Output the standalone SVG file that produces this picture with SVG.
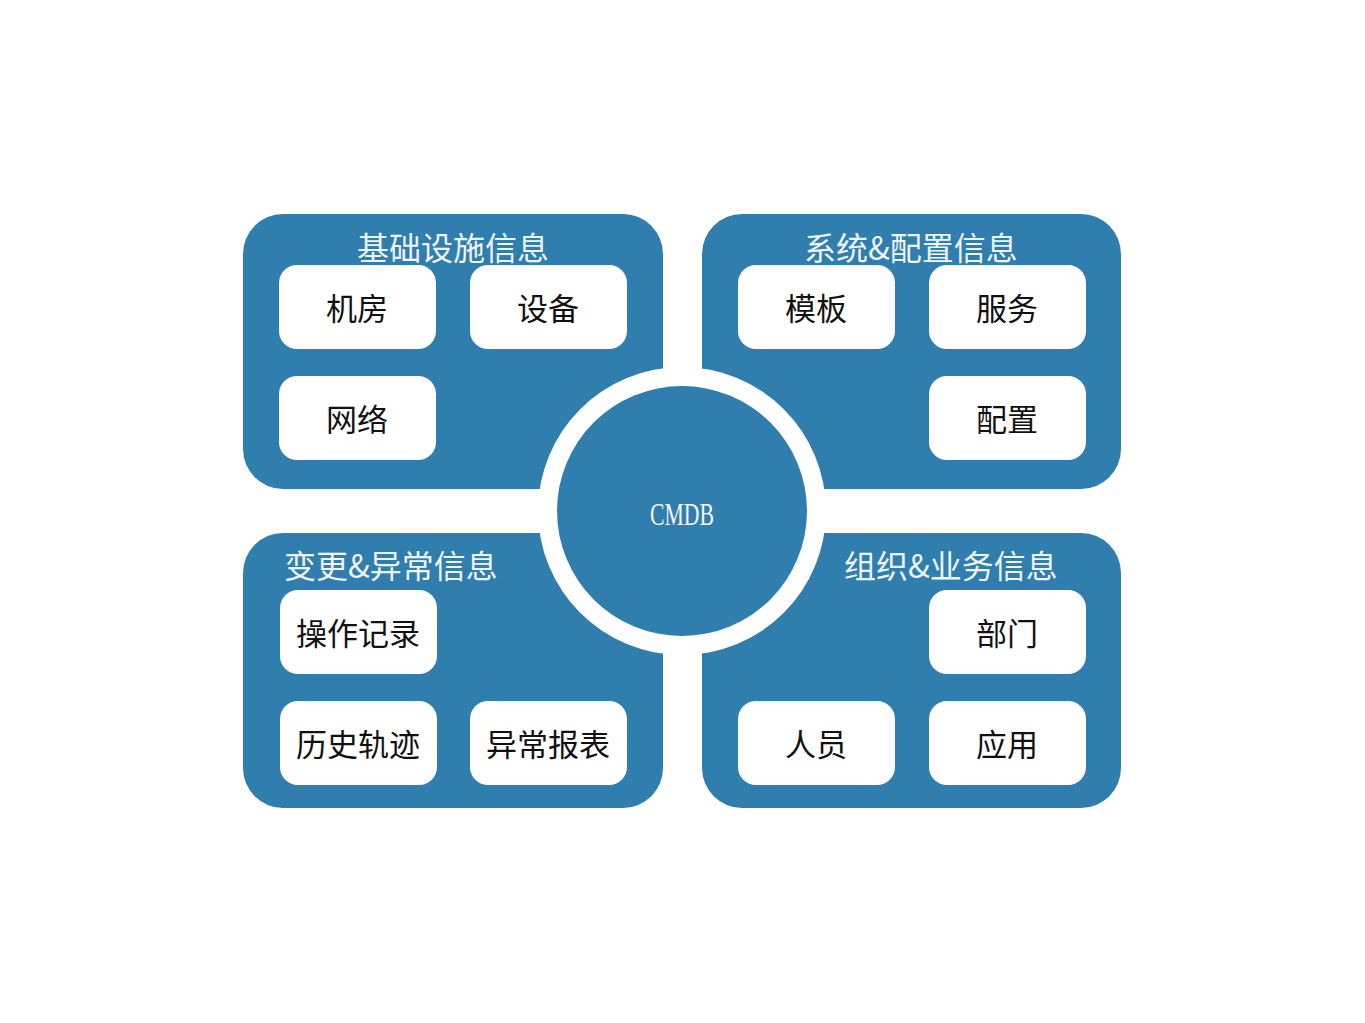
<svg xmlns="http://www.w3.org/2000/svg" width="1365" height="1023" viewBox="0 0 1365 1023">
<style>
.panel{fill:#2f7eae}
.box{fill:#ffffff}
.title{font-family:"Noto Sans CJK SC","Liberation Serif",serif;font-size:32px;fill:#eef4f8;text-anchor:middle}
.lbl{font-family:"Noto Sans CJK SC","Liberation Serif",serif;font-size:31px;fill:#111111;text-anchor:middle}
.core{font-family:"Liberation Serif","Noto Sans CJK SC",serif;font-size:32px;fill:#f4f8fb;text-anchor:middle}
</style>
<rect width="1365" height="1023" fill="#ffffff"/>
<g id="panel-infra">
<rect class="panel" x="243" y="214" width="420" height="275" rx="40"/>
<text class="title" x="453" y="260">基础设施信息</text>
</g>
<g id="panel-system">
<rect class="panel" x="702" y="214" width="419" height="275" rx="40"/>
<text class="title" x="911" y="260">系统&amp;配置信息</text>
</g>
<g id="panel-change">
<rect class="panel" x="243" y="533" width="420" height="275" rx="40"/>
<text class="title" x="391" y="578">变更&amp;异常信息</text>
</g>
<g id="panel-org">
<rect class="panel" x="702" y="533" width="419" height="275" rx="40"/>
<text class="title" x="951" y="578">组织&amp;业务信息</text>
</g>
<g id="cmdb">
<circle cx="682" cy="511" r="144" fill="#ffffff"/>
<circle class="panel" cx="682" cy="511" r="125"/>
<text class="core" x="682" y="525" textLength="64" lengthAdjust="spacingAndGlyphs">CMDB</text>
</g>
<g id="node-jifang"><rect class="box" x="279" y="265" width="157" height="84" rx="18"/><text class="lbl" x="357" y="320">机房</text></g>
<g id="node-shebei"><rect class="box" x="470" y="265" width="157" height="84" rx="18"/><text class="lbl" x="548" y="320">设备</text></g>
<g id="node-wangluo"><rect class="box" x="279" y="376" width="157" height="84" rx="18"/><text class="lbl" x="357" y="431">网络</text></g>
<g id="node-muban"><rect class="box" x="738" y="265" width="157" height="84" rx="18"/><text class="lbl" x="816" y="320">模板</text></g>
<g id="node-fuwu"><rect class="box" x="929" y="265" width="157" height="84" rx="18"/><text class="lbl" x="1007" y="320">服务</text></g>
<g id="node-peizhi"><rect class="box" x="929" y="376" width="157" height="84" rx="18"/><text class="lbl" x="1007" y="431">配置</text></g>
<g id="node-caozuo"><rect class="box" x="280" y="590" width="157" height="84" rx="18"/><text class="lbl" x="358" y="645">操作记录</text></g>
<g id="node-lishi"><rect class="box" x="280" y="701" width="157" height="84" rx="18"/><text class="lbl" x="358" y="756">历史轨迹</text></g>
<g id="node-yichang"><rect class="box" x="470" y="701" width="157" height="84" rx="18"/><text class="lbl" x="548" y="756">异常报表</text></g>
<g id="node-bumen"><rect class="box" x="929" y="590" width="157" height="84" rx="18"/><text class="lbl" x="1007" y="645">部门</text></g>
<g id="node-renyuan"><rect class="box" x="738" y="701" width="157" height="84" rx="18"/><text class="lbl" x="816" y="756">人员</text></g>
<g id="node-yingyong"><rect class="box" x="929" y="701" width="157" height="84" rx="18"/><text class="lbl" x="1007" y="756">应用</text></g>
<g id="connectors"></g>
</svg>
